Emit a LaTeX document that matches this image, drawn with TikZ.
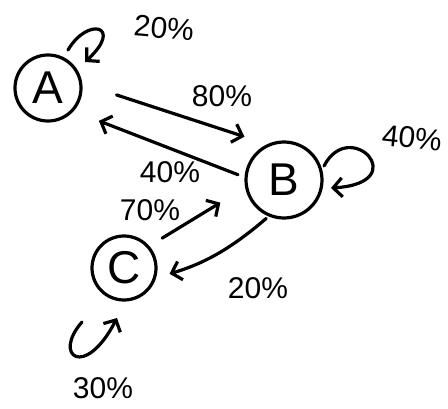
\documentclass[tikz,border=0pt]{standalone}
\usepackage{fontspec}
\setmainfont{Liberation Sans}
\usetikzlibrary{arrows.meta}

\begin{document}
\begin{tikzpicture}[x=1pt,y=1pt,line width=3.2pt,line cap=round,line join=round,
    state/.style={draw,circle,inner sep=0pt,font=\fontsize{46}{46}\selectfont},
    trans/.style={-{Straight Barb[length=9pt,width=19pt]}},
    prob/.style={font=\fontsize{30}{30}\selectfont,inner sep=1pt}]
    \useasboundingbox (0,0) rectangle (448,408);
    \node[state,minimum size=66pt] (A) at (48,320) {A};
    \node[state,minimum size=76pt] (B) at (284,228) {B};
    \node[state,minimum size=64pt] (C) at (124,140) {C};

    % moves between the states
    \draw[trans,shorten <=36pt,shorten >=24pt] (A.7) -- (B.115);
    \draw[trans,shorten <=7pt,shorten >=27pt] (B.176) -- (A.-42);
    \draw[trans,shorten <=15pt,shorten >=29pt] (C.41) -- (B.191);
    \draw[trans,shorten <=3pt,shorten >=14pt] (B.247) to[bend left=12] (C.-17);

    % staying put
    \coordinate (A1) at (68,358);
    \coordinate (A2) at (85,346);
    \coordinate (B1) at (324,242);
    \coordinate (B2) at (331,220);
    \coordinate (C1) at (82,86);
    \coordinate (C2) at (117,90);
    \draw[trans] (A1) .. controls (88,392) and (124,382) .. (A2);
    \draw[trans] (B1) .. controls (350,292) and (414,225) .. (B2);
    \draw[trans] (C1) .. controls (52,52) and (85,28) .. (C2);

    \node[prob,rotate=-5] (pAA) at (164,380) {20\%};
    \node[prob] (pAB) at (222,312) {80\%};
    \node[prob] (pBA) at (170,236) {40\%};
    \node[prob,rotate=-6] (pBB) at (412,270) {40\%};
    \node[prob] (pCB) at (150,198) {70\%};
    \node[prob] (pBC) at (258,120) {20\%};
    \node[prob] (pCC) at (103,20) {30\%};
\end{tikzpicture}
\end{document}
